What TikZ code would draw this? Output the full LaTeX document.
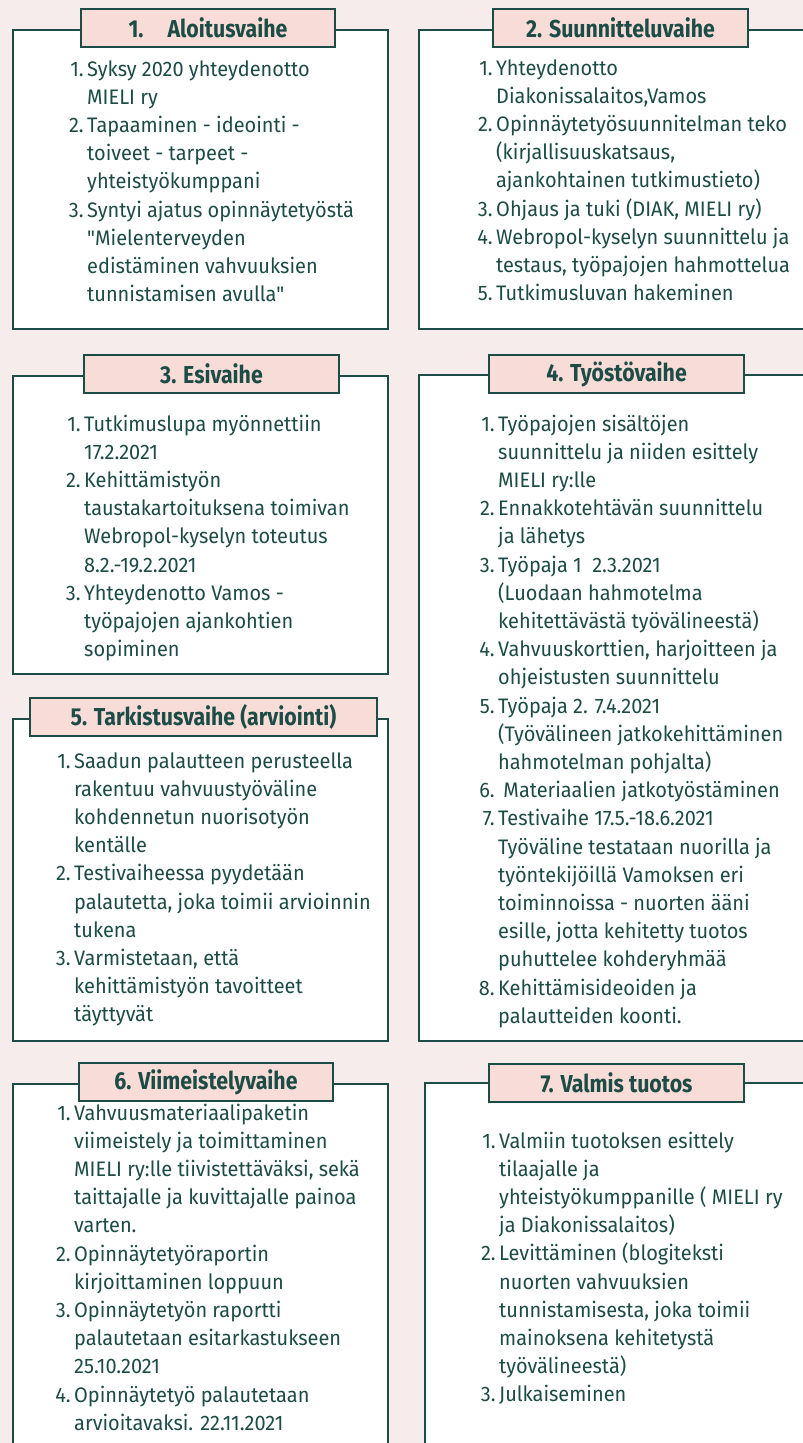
\documentclass[tikz,border=0pt]{standalone}
\usepackage{fontspec}
\setmainfont{Fira Sans}[FakeStretch=0.95, Ligatures=TeXOff]
\newfontfamily\tfont{Fira Sans}[FakeStretch=0.87, Ligatures=TeXOff]
\definecolor{bgc}{HTML}{F5ECEB}
\definecolor{tfill}{HTML}{F7DCD7}
\definecolor{ink}{HTML}{1D4B45}
\tikzset{
  frame/.style={draw=ink, line width=2pt, fill=white},
  titlebox/.style={draw=ink, line width=2pt, fill=tfill, minimum height=38pt, inner sep=0pt,
    font=\tfont\bfseries\fontsize{24.5}{28}\selectfont, text=ink},
  body/.style={anchor=base west, inner sep=0pt, text=ink, font=\fontsize{21}{28.2}\selectfont},
}
\newcommand{\itm}[1]{\llap{#1\hspace{3.5pt}}}
\newcommand{\lst}[1]{\begin{tabular}[t]{@{}l@{}}#1\end{tabular}}
\begin{document}
\begin{tikzpicture}[x=1pt,y=-1pt]
\useasboundingbox (0,0) rectangle (803,1443);
\clip (0,0) rectangle (803,1443);
\fill[bgc] (0,0) rectangle (803,1443);
% frames
\draw[frame] (13,30) rectangle (388,329);
\draw[frame] (419,30) rectangle (820,329);
\draw[frame] (13,376) rectangle (388,674);
\draw[frame] (419,375) rectangle (820,1041);
\draw[frame] (13,719) rectangle (388,1041);
\draw[frame] (13,1084) rectangle (388,1460);
\draw[frame] (425,1083) rectangle (820,1460);
% titles
\node[titlebox, minimum width=254pt] (t1) at (208,28) {1.\hspace{24pt}Aloitusvaihe};
\node[titlebox, minimum width=255pt] (t2) at (620.5,28) {2. Suunnitteluvaihe};
\node[titlebox, minimum width=255pt] (t3) at (211.5,374) {3. Esivaihe};
\node[titlebox, minimum width=255pt] (t4) at (616.5,374) {4. Työstövaihe};
\node[titlebox, minimum width=347pt] (t5) at (203.5,717) {5. Tarkistusvaihe (arviointi)};
\node[titlebox, minimum width=254pt] (t6) at (206,1082) {6. Viimeistelyvaihe};
\node[titlebox, minimum width=255pt] (t7) at (616.5,1083) {7. Valmis tuotos};
% bodies
\node[body] (b1) at (87,76) {\lst{%
\itm{1.}Syksy 2020 yhteydenotto\\
MIELI ry\\
\itm{2.}Tapaaminen - ideointi -\\
toiveet - tarpeet -\\
yhteistyökumppani\\
\itm{3.}Syntyi ajatus opinnäytetyöstä\\
"Mielenterveyden\\
edistäminen vahvuuksien\\
tunnistamisen avulla"}};
\node[body] (b2) at (496,75) {\lst{%
\itm{1.}Yhteydenotto\\
Diakonissalaitos,Vamos\\
\itm{2.}Opinnäytetyösuunnitelman teko\\
(kirjallisuuskatsaus,\\
ajankohtainen tutkimustieto)\\
\itm{3.}Ohjaus ja tuki (DIAK, MIELI ry)\\
\itm{4.}Webropol-kyselyn suunnittelu ja\\
testaus, työpajojen hahmottelua\\
\itm{5.}Tutkimusluvan hakeminen}};
\node[body] (b3) at (84,431) {\lst{%
\itm{1.}Tutkimuslupa myönnettiin\\
17.2.2021\\
\itm{2.}Kehittämistyön\\
taustakartoituksena toimivan\\
Webropol-kyselyn toteutus\\
8.2.-19.2.2021\\
\itm{3.}Yhteydenotto Vamos -\\
työpajojen ajankohtien\\
sopiminen}};
\node[body] (b4) at (498,431) {\lst{%
\itm{1.}Työpajojen sisältöjen\\
suunnittelu ja niiden esittely\\
MIELI ry:lle\\
\itm{2.}Ennakkotehtävän suunnittelu\\
ja lähetys\\
\itm{3.}Työpaja 1\ \ 2.3.2021\\
(Luodaan hahmotelma\\
kehitettävästä työvälineestä)\\
\itm{4.}Vahvuuskorttien, harjoitteen ja\\
ohjeistusten suunnittelu\\
\itm{5.}Työpaja 2. 7.4.2021\\
(Työvälineen jatkokehittäminen\\
hahmotelman pohjalta)\\
\itm{6.}\ Materiaalien jatkotyöstäminen\\
\itm{7.}Testivaihe 17.5.-18.6.2021\\
Työväline testataan nuorilla ja\\
työntekijöillä Vamoksen eri\\
toiminnoissa - nuorten ääni\\
esille, jotta kehitetty tuotos\\
puhuttelee kohderyhmää\\
\itm{8.}Kehittämisideoiden ja\\
palautteiden koonti.}};
\node[body] (b5) at (74,768) {\lst{%
\itm{1.}Saadun palautteen perusteella\\
rakentuu vahvuustyöväline\\
kohdennetun nuorisotyön\\
kentälle\\
\itm{2.}Testivaiheessa pyydetään\\
palautetta, joka toimii arvioinnin\\
tukena\\
\itm{3.}Varmistetaan, että\\
kehittämistyön tavoitteet\\
täyttyvät}};
\node[body] (b6) at (74,1120) {\lst{%
\itm{1.}Vahvuusmateriaalipaketin\\
viimeistely ja toimittaminen\\
MIELI ry:lle tiivistettäväksi, sekä\\
taittajalle ja kuvittajalle painoa\\
varten.\\
\itm{2.}Opinnäytetyöraportin\\
kirjoittaminen loppuun\\
\itm{3.}Opinnäytetyön raportti\\
palautetaan esitarkastukseen\\
25.10.2021\\
\itm{4.}Opinnäytetyö palautetaan\\
arvioitavaksi. 22.11.2021}};
\node[body] (b7) at (499,1148) {\lst{%
\itm{1.}Valmiin tuotoksen esittely\\
tilaajalle ja\\
yhteistyökumppanille ( MIELI ry\\
ja Diakonissalaitos)\\
\itm{2.}Levittäminen (blogiteksti\\
nuorten vahvuuksien\\
tunnistamisesta, joka toimii\\
mainoksena kehitetystä\\
työvälineestä)\\
\itm{3.}Julkaiseminen}};
\end{tikzpicture}
\end{document}
